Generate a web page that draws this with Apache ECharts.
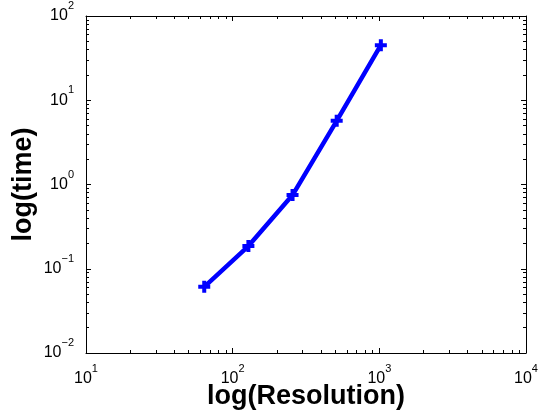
<!DOCTYPE html>
<html>
<head>
<meta charset="utf-8">
<script src="https://cdn.jsdelivr.net/npm/echarts@6/dist/echarts.min.js"></script>
<style>
html,body{margin:0;padding:0;background:#fff;}
#chart{width:549px;height:417px;}
</style>
</head>
<body>
<div id="chart"></div>
<script>
// Data
const resolution = [64, 128, 256, 512, 1024];
const time = [0.061, 0.186, 0.75, 5.7, 45];
const xRange = [10, 10000];
const yRange = [0.01, 100];
const xMinorTicks = [20,30,40,50,60,70,80,90,200,300,400,500,600,700,800,900,2000,3000,4000,5000,6000,7000,8000,9000];
const yMinorTicks = [0.02,0.03,0.04,0.05,0.06,0.07,0.08,0.09,0.2,0.3,0.4,0.5,0.6,0.7,0.8,0.9,2,3,4,5,6,7,8,9,20,30,40,50,60,70,80,90];
const xTitle = 'log(Resolution)';
const yTitle = 'log(time)';

const FONT = '"Liberation Sans", Arial, Helvetica, sans-serif';
const rich = {
  b: {fontSize: 16, lineHeight: 31, color: '#000', fontFamily: FONT},
  s: {fontSize: 11, lineHeight: 11, verticalAlign: 'top', color: '#000', fontFamily: FONT}
};
function powLabel(v) {
  const e = Math.round(Math.log10(v));
  const es = e < 0 ? '\u2212' + (-e) : String(e);
  return '{b|10}{s|' + es + '}';
}

function majorAxis(range, position, withLabels, extra) {
  return Object.assign({
    type: 'log', logBase: 10, min: range[0], max: range[1], position: position,
    axisLine: {show: true, onZero: false, lineStyle: {color: '#000', width: 1}},
    axisTick: {show: true, inside: true, length: 5, lineStyle: {color: '#000', width: 1}},
    axisLabel: withLabels ? {show: true, formatter: powLabel, rich: rich, margin: 10} : {show: false},
    splitLine: {show: false},
    minorTick: {show: false}
  }, extra || {});
}
function minorAxis(range, position, ticks) {
  return {
    type: 'log', logBase: 10, min: range[0], max: range[1], position: position,
    axisLine: {show: false, onZero: false},
    axisTick: {show: true, inside: true, length: 3, customValues: ticks, lineStyle: {color: '#000', width: 1}},
    axisLabel: {show: false},
    splitLine: {show: false}
  };
}

const chart = echarts.init(document.getElementById('chart'), null, {renderer: 'canvas'});
chart.setOption({
  animation: false,
  backgroundColor: '#fff',
  grid: {left: 86, top: 16, right: 23, bottom: 64, containLabel: false, outerBoundsMode: 'none'},
  xAxis: [
    majorAxis(xRange, 'bottom', true, {
      name: xTitle, nameLocation: 'middle', nameGap: 30, nameMoveOverlap: false,
      nameTextStyle: {fontSize: 27, fontWeight: 'bold', color: '#000', fontFamily: FONT}
    }),
    minorAxis(xRange, 'bottom', xMinorTicks),
    majorAxis(xRange, 'top', false),
    minorAxis(xRange, 'top', xMinorTicks)
  ],
  yAxis: [
    majorAxis(yRange, 'left', true, {
      name: yTitle, nameLocation: 'middle', nameGap: 49, nameMoveOverlap: false,
      nameTextStyle: {fontSize: 27, fontWeight: 'bold', color: '#000', fontFamily: FONT},
      axisLabel: {show: true, formatter: powLabel, rich: rich, margin: 12}
    }),
    minorAxis(yRange, 'left', yMinorTicks),
    majorAxis(yRange, 'right', false),
    minorAxis(yRange, 'right', yMinorTicks)
  ],
  series: [{
    type: 'line',
    xAxisIndex: 0, yAxisIndex: 0,
    data: resolution.map((r, i) => [r, time[i]]),
    lineStyle: {color: '#0000ff', width: 4.5},
    itemStyle: {color: '#0000ff'},
    symbol: 'path://M-1,-3L1,-3L1,-1L3,-1L3,1L1,1L1,3L-1,3L-1,1L-3,1L-3,-1L-1,-1Z',
    symbolSize: 12,
    showAllSymbol: true
  }]
});
</script>
</body>
</html>
